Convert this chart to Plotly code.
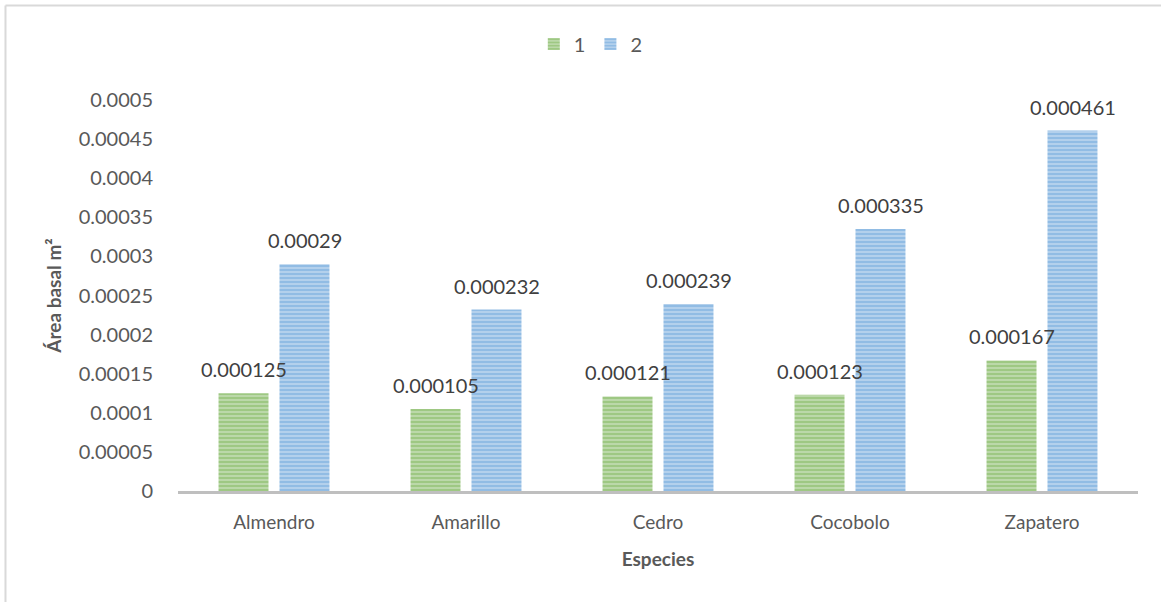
import plotly.graph_objects as go

especies = ["Almendro", "Amarillo", "Cedro", "Cocobolo", "Zapatero"]
serie_1 = [0.000125, 0.000105, 0.000121, 0.000123, 0.000167]
serie_2 = [0.00029, 0.000232, 0.000239, 0.000335, 0.000461]
y_ticks = [0, 0.00005, 0.0001, 0.00015, 0.0002, 0.00025, 0.0003, 0.00035, 0.0004, 0.00045, 0.0005]
y_tick_text = ["0", "0.00005", "0.0001", "0.00015", "0.0002", "0.00025", "0.0003", "0.00035", "0.0004", "0.00045", "0.0005"]

GREEN = "#70AD47"
BLUE = "#5B9BD5"
TEXT = "#595959"
FONT = "Lato, 'Open Sans', sans-serif"

fig = go.Figure()
fig.add_trace(go.Bar(
    x=especies, y=serie_1, name="1",
    marker=dict(color="#CCE2BE", line=dict(width=0),
                pattern=dict(shape="-", fgcolor=GREEN, bgcolor="#CCE2BE", size=4, solidity=0.68)),
))
fig.add_trace(go.Bar(
    x=especies, y=serie_2, name="2",
    marker=dict(color="#C6DCF2", line=dict(width=0),
                pattern=dict(shape="-", fgcolor=BLUE, bgcolor="#C6DCF2", size=4, solidity=0.68)),
))

# value labels above each bar, written as plain decimals
annotations = []
for vals, shift in ((serie_1, -30.5), (serie_2, 30.5)):
    for cat, v in zip(especies, vals):
        annotations.append(dict(
            x=cat, y=v, xref="x", yref="y", text=f"{v:.6f}".rstrip("0"),
            showarrow=False, xshift=shift, yshift=24, yanchor="middle",
            font=dict(family=FONT, size=20, color="#404040"),
        ))

fig.update_layout(
    width=1161, height=602,
    margin=dict(l=178, r=23, t=100, b=111),
    paper_bgcolor="white", plot_bgcolor="white",
    barmode="group", bargap=0.365, bargroupgap=0.18,
    font=dict(family=FONT, size=20, color=TEXT),
    legend=dict(orientation="h", x=0.43, xanchor="center", y=1.143, yanchor="middle",
                font=dict(size=20, color=TEXT), itemwidth=30, traceorder="normal"),
    xaxis=dict(
        showgrid=False, showline=True, linecolor="#BFBFBF", linewidth=2.5,
        ticks="", tickfont=dict(size=19, color=TEXT), ticklabelstandoff=12,
        title=dict(text="<b>Especies</b>", font=dict(size=19, color=TEXT), standoff=22),
    ),
    yaxis=dict(
        range=[0, 0.0005], tickvals=y_ticks, ticktext=y_tick_text,
        showgrid=False, zeroline=False, showline=False, ticks="",
        tickfont=dict(size=20, color=TEXT), ticklabelstandoff=24,
        title=dict(text="<b>Área basal m²</b>", font=dict(size=19, color=TEXT), standoff=12),
    ),
    annotations=annotations,
    shapes=[
        dict(type="line", xref="paper", yref="paper", x0=-0.1797, x1=1.03, y0=1.2417, y1=1.2417,
             line=dict(color="#D9D9D9", width=2)),
        dict(type="line", xref="paper", yref="paper", x0=-0.1797, x1=-0.1797, y0=-0.3, y1=1.2417,
             line=dict(color="#D9D9D9", width=2)),
    ],
)

fig.write_html("out.html")
